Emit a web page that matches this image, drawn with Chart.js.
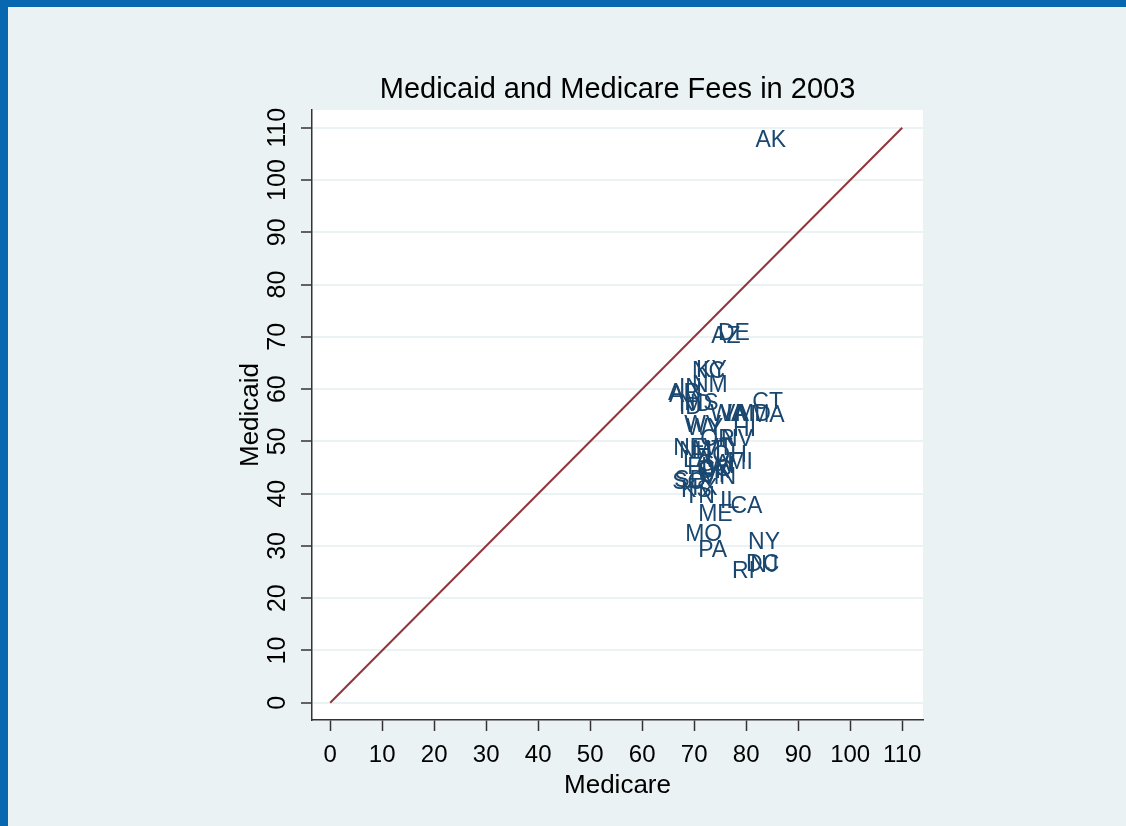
<!DOCTYPE html>
<html>
<head>
<meta charset="utf-8">
<script src="https://cdn.jsdelivr.net/npm/chart.js@4.4.1/dist/chart.umd.min.js"></script>
<style>
  html, body { margin: 0; padding: 0; width: 1126px; height: 826px; overflow: hidden; background: #0767b0; }
  #wrap { position: absolute; left: 8px; top: 7px; width: 1118px; height: 819px; background: #eaf2f3; }
  canvas { display: block; }
</style>
</head>
<body>
<div id="wrap"><canvas id="c" width="1118" height="819"></canvas></div>
<script>
// State abbreviations and 2003 fee indices
const states = ['AK','AL','AR','AZ','CA','CO','CT','DC','DE','FL','GA','HI','IA','ID','IL','IN','KS','KY','LA','MA','MD','ME','MI','MN','MO','MS','MT','NC','ND','NE','NH','NJ','NM','NV','NY','OH','OK','OR','PA','RI','SC','SD','TN','TX','UT','VA','VT','WA','WI','WV','WY'];
const medicare = [81.0,64.4,64.2,72.5,76.2,70.0,80.4,79.2,73.8,67.9,69.8,76.7,75.4,66.3,74.2,66.3,66.7,69.6,67.1,80.0,77.1,70.0,75.6,70.4,67.5,67.3,68.8,68.8,66.3,65.2,66.3,80.0,68.8,74.4,79.6,72.7,69.8,70.4,70.0,76.5,65.0,65.4,67.3,68.1,70.0,74.2,71.0,72.3,71.7,67.3,67.7];
const medicaid = [107.5,58.7,59.1,70.0,37.5,44.6,57.4,26.4,70.7,44.9,45.5,52.2,55.2,56.4,38.4,60.0,40.5,63.6,46.3,54.9,55.1,35.9,45.9,43.0,32.1,57.2,48.2,63.4,57.0,48.6,48.0,26.2,60.6,50.3,30.6,47.2,44.2,50.3,29.1,25.0,42.1,42.4,39.4,40.9,43.4,55.1,48.6,55.2,45.1,53.0,52.4];

// Axis ticks and the 45-degree reference line
const tickValues = [0,10,20,30,40,50,60,70,80,90,100,110];
const equalityLine = [0, 110];

const chartTitle = 'Medicaid and Medicare Fees in 2003';
const xTitle = 'Medicare';
const yTitle = 'Medicaid';

const FONT = '"Liberation Sans", Arial, Helvetica, sans-serif';
const NAVY = '#1a476f';
const MAROON = '#90353b';
const AXIS = '#333333';

const points = states.map((s, i) => ({ x: medicare[i], y: medicaid[i], label: s }));

// White plot region behind the marks
const plotBg = {
  id: 'plotBg',
  beforeDraw(chart) {
    const { ctx, chartArea: a } = chart;
    ctx.save();
    ctx.fillStyle = '#ffffff';
    ctx.fillRect(a.left, a.top, a.right - a.left, a.bottom - a.top);
    ctx.restore();
  }
};

// State labels placed to the right of each (invisible) marker, plus title and rotated y tick labels
const decorations = {
  id: 'decorations',
  afterDatasetsDraw(chart) {
    const { ctx, scales: { x, y } } = chart;
    ctx.save();
    ctx.font = '23px ' + FONT;
    ctx.fillStyle = NAVY;
    ctx.textAlign = 'left';
    ctx.textBaseline = 'middle';
    points.forEach(p => {
      ctx.fillText(p.label, x.getPixelForValue(p.x) + 4, y.getPixelForValue(p.y));
    });
    ctx.restore();
  },
  afterDraw(chart) {
    const { ctx, chartArea: a, scales: { y } } = chart;
    ctx.save();
    ctx.fillStyle = '#000000';
    ctx.font = '29px ' + FONT;
    ctx.textAlign = 'center';
    ctx.textBaseline = 'middle';
    ctx.fillText(chartTitle, (a.left + a.right) / 2, 83);

    ctx.font = '25px ' + FONT;
    y.ticks.forEach(t => {
      const py = y.getPixelForValue(t.value);
      ctx.save();
      ctx.translate(a.left - 34, py);
      ctx.rotate(-Math.PI / 2);
      ctx.fillText(String(t.value), 0, 0);
      ctx.restore();
    });
    ctx.restore();
  }
};

const setTicks = scale => { scale.ticks = tickValues.map(v => ({ value: v })); };

new Chart(document.getElementById('c'), {
  type: 'scatter',
  data: {
    datasets: [
      {
        type: 'line',
        data: equalityLine.map(v => ({ x: v, y: v })),
        borderColor: MAROON,
        borderWidth: 2,
        pointRadius: 0,
        fill: false
      },
      {
        data: points,
        pointRadius: 0,
        pointHoverRadius: 0,
        showLine: false
      }
    ]
  },
  options: {
    responsive: false,
    animation: false,
    events: [],
    layout: { padding: { left: 204, right: 203, top: 103, bottom: 0 } },
    plugins: {
      legend: { display: false },
      tooltip: { enabled: false },
      title: { display: false }
    },
    scales: {
      x: {
        type: 'linear',
        min: -3.5,
        max: 114,
        afterBuildTicks: setTicks,
        afterFit: s => { s.height = 106; },
        grid: { drawOnChartArea: false, drawTicks: true, tickLength: 11, tickColor: AXIS, tickWidth: 1.5 },
        border: { display: true, color: AXIS, width: 1.5 },
        ticks: {
          color: '#000000',
          font: { size: 24, family: FONT },
          padding: 10,
          maxRotation: 0,
          minRotation: 0,
          callback: v => String(v)
        },
        title: {
          display: true,
          text: xTitle,
          color: '#000000',
          font: { size: 26, family: FONT },
          padding: { top: 0, bottom: 25 }
        }
      },
      y: {
        type: 'linear',
        min: -3.3,
        max: 113.4,
        afterBuildTicks: setTicks,
        afterFit: s => { s.width = 100; },
        grid: { color: '#eaf2f3', lineWidth: 2, drawTicks: true, tickLength: 11, tickColor: AXIS, tickWidth: 1.5 },
        border: { display: true, color: AXIS, width: 1.5 },
        ticks: { display: false },
        title: {
          display: true,
          text: yTitle,
          color: '#000000',
          font: { size: 26, family: FONT },
          padding: { top: 23, bottom: 0 }
        }
      }
    }
  },
  plugins: [plotBg, decorations]
});
</script>
</body>
</html>
